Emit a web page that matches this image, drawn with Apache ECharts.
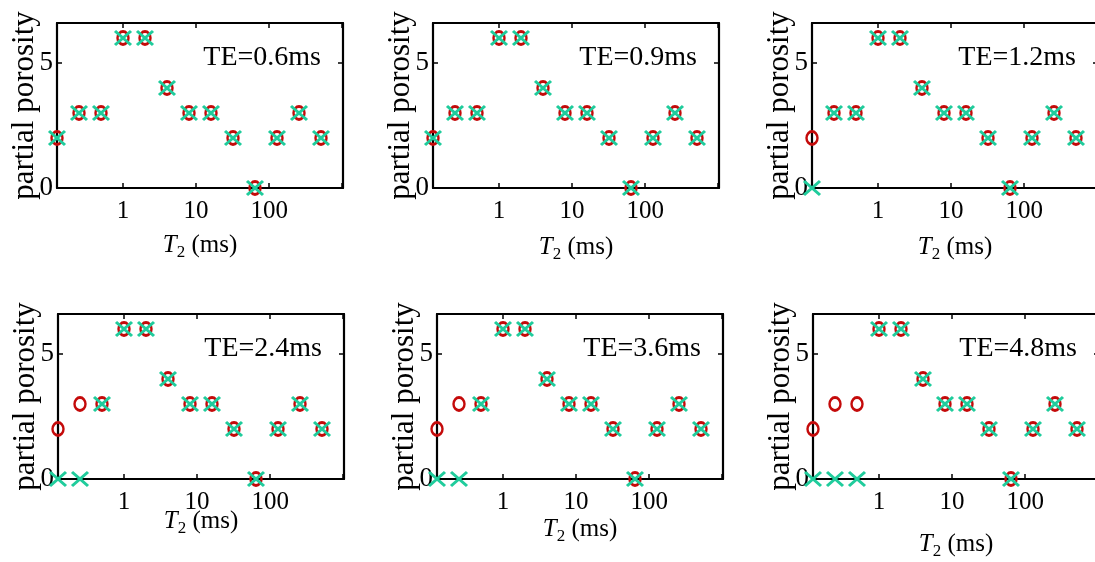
<!DOCTYPE html>
<html lang="en">
<head>
    <meta charset="UTF-8">
    <title>T2 partial porosity</title>
    <script src="https://cdn.jsdelivr.net/npm/echarts@6/dist/echarts.min.js"></script>
    <style>
        html, body { margin: 0; padding: 0; background: #fff; }
        #charts { width: 1095px; height: 562px; }
    </style>
</head>
<body>
    <div id="charts"></div>
    <script type="text/javascript">
        // T2 bins (ms) and partial porosity values
        var t2 = [0.125, 0.25, 0.5, 1, 2, 4, 8, 16, 32, 64, 128, 256, 512];
        var trueModel = [2, 3, 3, 6, 6, 4, 3, 3, 2, 0, 2, 3, 2];
        var est06 = [2, 3, 3, 6, 6, 4, 3, 3, 2, 0, 2, 3, 2];
        var est09 = [2, 3, 3, 6, 6, 4, 3, 3, 2, 0, 2, 3, 2];
        var est12 = [0, 3, 3, 6, 6, 4, 3, 3, 2, 0, 2, 3, 2];
        var est24 = [0, 0, 3, 6, 6, 4, 3, 3, 2, 0, 2, 3, 2];
        var est36 = [0, 0, 3, 6, 6, 4, 3, 3, 2, 0, 2, 3, 2];
        var est48 = [0, 0, 0, 6, 6, 4, 3, 3, 2, 0, 2, 3, 2];
        var teLabels = ['TE=0.6ms', 'TE=0.9ms', 'TE=1.2ms', 'TE=2.4ms', 'TE=3.6ms', 'TE=4.8ms'];
        var estimates = [est06, est09, est12, est24, est36, est48];
        var xTickLabels = [1, 10, 100];
        var yTicks = [0, 5];

        // panel layout: [left, top, name gap of the T2 label]
        var panels = [
            [57, 23, 42], [433, 23, 44], [812, 23, 44],
            [58, 314, 27], [437, 314, 35], [813, 314, 50]
        ];
        var panelW = 286, panelH = 165;
        var font = '"Liberation Serif", "Times New Roman", serif';

        function pairs(ys) {
            var out = [];
            for (var i = 0; i < t2.length; i++) out.push([t2[i], ys[i]]);
            return out;
        }

        function xLabel(v) {
            for (var i = 0; i < xTickLabels.length; i++) {
                if (Math.abs(v - xTickLabels[i]) < 1e-6 * xTickLabels[i]) return String(xTickLabels[i]);
            }
            return '';
        }

        var grid = [], xAxis = [], yAxis = [], series = [], graphic = [];
        var lineStyle = { color: '#000', width: 2.2 };
        var tick = { show: true, inside: true, length: 5, lineStyle: { color: '#000', width: 1.5 } };
        for (var p = 0; p < 6; p++) {
            var pl = panels[p];
            grid.push({
                left: pl[0], top: pl[1], width: panelW, height: panelH,
                containLabel: false, outerBoundsMode: 'none'
            });
            xAxis.push({
                type: 'log', logBase: 10, gridIndex: p, min: 0.125, max: 1024,
                position: 'bottom',
                name: '{i|T}{s|2} (ms)', nameLocation: 'middle', nameGap: pl[2],
                nameMoveOverlap: false,
                nameTextStyle: {
                    fontFamily: font, fontSize: 25, color: '#000',
                    rich: {
                        i: { fontFamily: font, fontSize: 25, fontStyle: 'italic', color: '#000' },
                        s: { fontFamily: font, fontSize: 17, color: '#000', verticalAlign: 'bottom', padding: [14, 0, 0, 0] }
                    }
                },
                axisLine: { show: true, onZero: false, lineStyle: lineStyle },
                axisTick: tick,
                axisLabel: {
                    show: true, formatter: xLabel, margin: 11, color: '#000',
                    fontFamily: font, fontSize: 25, showMinLabel: false, showMaxLabel: false
                },
                splitLine: { show: false }
            });
            xAxis.push({
                type: 'log', logBase: 10, gridIndex: p, min: 0.125, max: 1024,
                position: 'top',
                axisLine: { show: true, onZero: false, lineStyle: lineStyle },
                axisTick: tick,
                axisLabel: { show: false },
                splitLine: { show: false }
            });
            yAxis.push({
                type: 'value', gridIndex: p, min: 0, max: 6.6, interval: 5,
                position: 'left',
                name: 'partial porosity', nameLocation: 'middle', nameGap: 17, nameRotate: 90,
                nameMoveOverlap: false,
                nameTextStyle: { fontFamily: font, fontSize: 31, color: '#000' },
                axisLine: { show: true, onZero: false, lineStyle: lineStyle },
                axisTick: tick,
                axisLabel: {
                    show: true, margin: 4, color: '#000', fontFamily: font, fontSize: 27,
                    showMaxLabel: false,
                    formatter: function (v) { return yTicks.indexOf(v) >= 0 ? String(v) : ''; }
                },
                splitLine: { show: false }
            });
            yAxis.push({
                type: 'value', gridIndex: p, min: 0, max: 6.6, interval: 5,
                position: 'right',
                axisLine: { show: true, onZero: false, lineStyle: lineStyle },
                axisTick: tick,
                axisLabel: { show: false },
                splitLine: { show: false }
            });
            series.push({
                type: 'scatter', xAxisIndex: 2 * p, yAxisIndex: 2 * p, clip: false,
                symbol: 'circle', symbolSize: [11, 13],
                itemStyle: { color: 'rgba(0,0,0,0)', borderColor: '#c40a0a', borderWidth: 2.6, opacity: 1 },
                data: pairs(trueModel), z: 3
            });
            series.push({
                type: 'scatter', xAxisIndex: 2 * p, yAxisIndex: 2 * p, clip: false,
                symbol: 'path://M0,0L10,10M10,0L0,10', symbolSize: [16, 14],
                itemStyle: { color: 'rgba(0,0,0,0)', borderColor: '#20cc9c', borderWidth: 2.8, opacity: 1 },
                data: pairs(estimates[p]), z: 4
            });
            graphic.push({
                type: 'text', z: 10,
                x: pl[0] + panelW - 22, y: pl[1] + 35,
                style: {
                    text: teLabels[p], fill: '#000', font: '28px ' + font,
                    align: 'right', verticalAlign: 'middle'
                }
            });
        }

        var myChart = echarts.init(document.getElementById('charts'), null, { renderer: 'canvas' });
        var option = {
            animation: false,
            backgroundColor: '#fff',
            grid: grid,
            xAxis: xAxis,
            yAxis: yAxis,
            series: series,
            graphic: graphic
        };
        myChart.setOption(option);
    </script>
</body>
</html>
